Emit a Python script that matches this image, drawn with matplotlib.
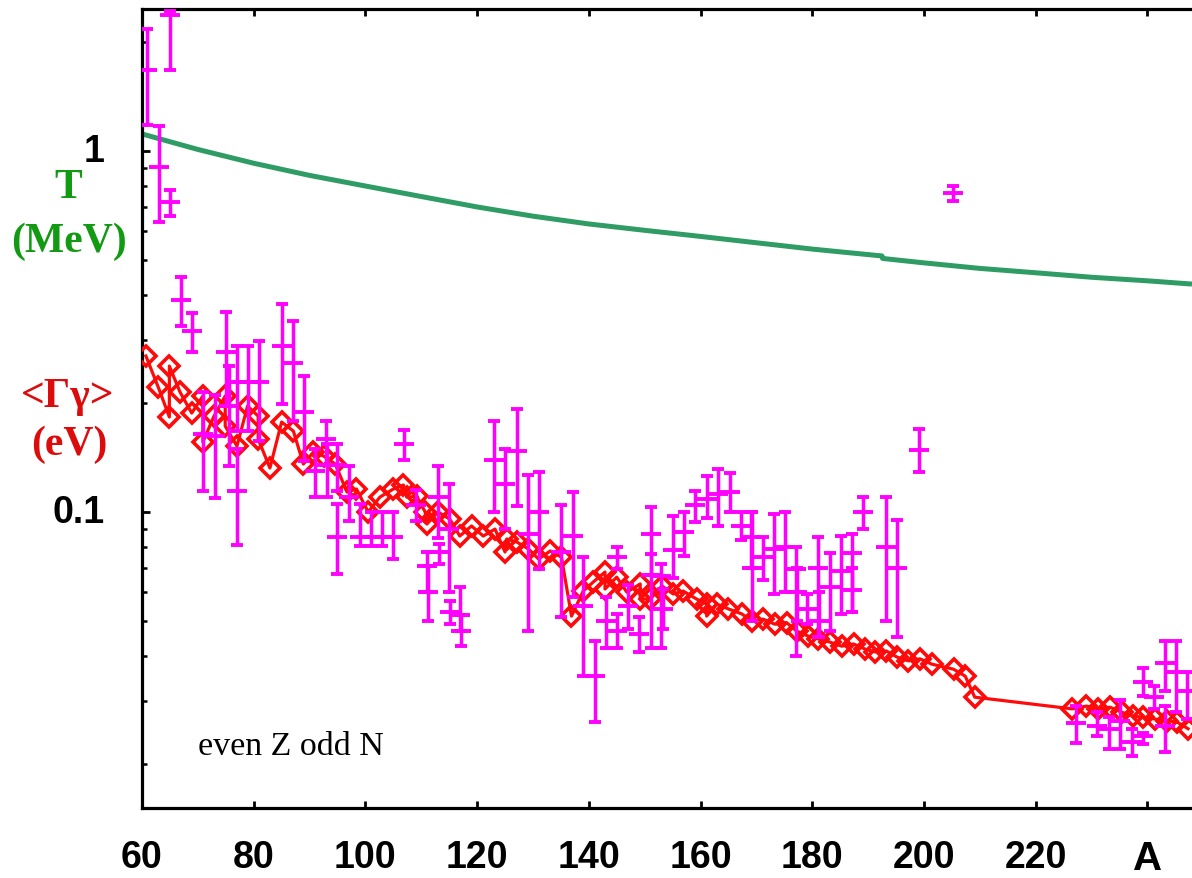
import matplotlib
matplotlib.use("Agg")
import matplotlib.pyplot as plt
import matplotlib.transforms as mtransforms
from matplotlib.ticker import FixedLocator, FixedFormatter, LogLocator, NullFormatter

# Nuclear temperature T (MeV) versus mass number A
t_A = [60, 70, 80, 90, 100, 110, 120, 130, 140, 150, 160, 170, 180, 192.5,
       192.6, 200, 210, 220, 230, 240, 248]
t_val = [1.115, 1.01, 0.925, 0.856, 0.800, 0.748, 0.700, 0.660, 0.628, 0.603,
         0.580, 0.557, 0.535, 0.512, 0.504, 0.490, 0.473, 0.460, 0.447, 0.437, 0.428]

# Calculated average radiative widths <Gamma_gamma> (eV)
calc_A = [60.7, 62.9, 64.9, 64.9, 66.8, 68.9, 70.9, 70.9, 72.9, 74.9, 74.9, 77.0,
          78.9, 80.8, 80.8, 82.9, 85.0, 87.1, 88.9, 90.7, 92.5, 94.6, 96.7, 98.4,
          100.5, 102.6, 105.0, 106.8, 107.4, 109.2, 110.7, 111.0, 113.0, 115.1,
          116.9, 119.0, 121.1, 123.2, 125.0, 125.3, 127.1, 129.2, 131.0, 133.1,
          135.1, 136.9, 139.0, 140.8, 142.9, 142.9, 145.0, 146.8, 149.2, 149.2,
          151.0, 153.1, 155.1, 156.9, 159.3, 161.1, 161.1, 162.9, 165.0, 167.4,
          169.2, 171.2, 173.3, 175.4, 177.2, 179.3, 181.1, 183.2, 185.3, 187.4,
          189.5, 191.2, 193.3, 195.1, 197.2, 199.3, 201.4, 205.3, 207.4, 209.1,
          226.5, 229.1, 231.2, 233.3, 235.4, 237.5, 239.3, 241.4, 243.5, 245.3, 247.3]
calc_gamma = [0.2705, 0.2219, 0.1833, 0.2537, 0.2150, 0.1880, 0.2096, 0.1563,
              0.1844, 0.2096, 0.1730, 0.1523, 0.1966, 0.1844, 0.1593, 0.1324,
              0.1775, 0.1676, 0.1358, 0.1466, 0.1429, 0.1358, 0.1136, 0.1158,
              0.1000, 0.1100, 0.1158, 0.1188, 0.1100, 0.1105, 0.1000, 0.0926,
              0.1000, 0.0956, 0.0858, 0.0915, 0.0858, 0.0897, 0.0775, 0.0842,
              0.0826, 0.0790, 0.0741, 0.0780, 0.0750, 0.0515, 0.0604, 0.0640,
              0.0682, 0.0612, 0.0660, 0.0600, 0.0632, 0.0574, 0.0574, 0.0624,
              0.0593, 0.0604, 0.0574, 0.0556, 0.0515, 0.0556, 0.0539, 0.0522,
              0.0499, 0.0505, 0.0489, 0.0494, 0.0468, 0.0453, 0.0445, 0.0436,
              0.0425, 0.0431, 0.0417, 0.0410, 0.0412, 0.0397, 0.0387, 0.0392,
              0.0379, 0.0367, 0.0351, 0.0307, 0.0285, 0.0290, 0.0285, 0.0288,
              0.0279, 0.0272, 0.0270, 0.0267, 0.0264, 0.0262, 0.0251]

# Measured <Gamma_gamma> (eV) with lower / upper error limits
exp_A = [60.9, 65.0, 63.0, 65.0, 67.0, 69.0, 71.0, 73.0, 75.0, 75.5, 77.0, 77.0,
         78.9, 81.0, 85.0, 87.0, 89.0, 91.0, 93.0, 93.2, 95.0, 95.0, 97.0, 99.0,
         101.0, 103.0, 105.0, 107.0, 109.0, 111.0, 111.2, 113.0, 113.2, 115.0,
         115.2, 117.0, 117.2, 123.1, 125.0, 127.1, 129.1, 131.1, 135.0, 137.1,
         139.0, 141.1, 143.1, 145.1, 145.1, 147.1, 149.0, 151.1, 151.1, 153.0,
         153.2, 155.0, 157.0, 159.0, 161.1, 163.2, 165.2, 167.2, 169.2, 169.0,
         171.1, 173.2, 175.1, 177.1, 177.2, 179.0, 181.1, 181.2, 183.1, 185.1,
         187.1, 187.2, 189.1, 193.2, 195.1, 199.2, 205.2, 227.2, 231.0, 233.2,
         235.1, 237.2, 239.3, 239.2, 241.2, 243.2, 243.2, 245.2, 247.1]
exp_gamma = [1.680, 2.381, 0.901, 0.721, 0.387, 0.318, 0.1644, 0.1627, 0.278,
             0.1966, 0.2287, 0.1146, 0.2287, 0.2287, 0.2877, 0.2582, 0.1889,
             0.1301, 0.1593, 0.1350, 0.1350, 0.0851, 0.1098, 0.0851, 0.0851,
             0.0851, 0.0851, 0.1543, 0.1045, 0.0707, 0.0601, 0.1098, 0.0774,
             0.0897, 0.0530, 0.0518, 0.0469, 0.1393, 0.1196, 0.1478, 0.0869,
             0.0998, 0.0776, 0.0859, 0.0550, 0.0351, 0.0500, 0.0749, 0.0469,
             0.0550, 0.0459, 0.0869, 0.0669, 0.0666, 0.0539, 0.0786, 0.0879,
             0.1045, 0.1086, 0.1122, 0.1139, 0.0916, 0.0698, 0.0851, 0.0749,
             0.0790, 0.0798, 0.0695, 0.0599, 0.0539, 0.0698, 0.0500, 0.0618,
             0.0688, 0.0770, 0.0609, 0.0998, 0.0798, 0.0698, 0.1488, 0.7636,
             0.0260, 0.0256, 0.0251, 0.0264, 0.0230, 0.0239, 0.0339, 0.0307,
             0.0256, 0.0381, 0.0360, 0.0320]
exp_lo = [1.180, 1.680, 0.637, 0.659, 0.328, 0.278, 0.1146, 0.1097, 0.1966,
          0.1343, 0.1679, 0.0808, 0.1679, 0.1576, 0.1991, 0.1790, 0.1387,
          0.1098, 0.1350, 0.1098, 0.1146, 0.0673, 0.0946, 0.0807, 0.0807,
          0.0807, 0.0741, 0.1396, 0.0946, 0.0601, 0.0500, 0.0846, 0.0718,
          0.0599, 0.0489, 0.0469, 0.0426, 0.0998, 0.0897, 0.1037, 0.0469,
          0.0695, 0.0511, 0.0580, 0.0352, 0.0262, 0.0419, 0.0695, 0.0419,
          0.0474, 0.0409, 0.0669, 0.0419, 0.0419, 0.0474, 0.0655, 0.0756,
          0.0940, 0.0960, 0.0916, 0.0998, 0.0837, 0.0500, 0.0698, 0.0649,
          0.0593, 0.0599, 0.0400, 0.0500, 0.0489, 0.0450, 0.0450, 0.0469,
          0.0522, 0.0530, 0.0530, 0.0897, 0.0500, 0.0450, 0.1293, 0.727,
          0.0229, 0.0239, 0.0221, 0.0221, 0.0211, 0.0228, 0.0309, 0.0285,
          0.0217, 0.0320, 0.0280, 0.0267]
exp_hi = [2.178, 2.450, 1.171, 0.781, 0.447, 0.357, 0.2146, 0.2109, 0.3589,
          0.2541, 0.2877, 0.1494, 0.2888, 0.2982, 0.3770, 0.3381, 0.2385,
          0.1494, 0.1790, 0.1543, 0.1543, 0.1052, 0.1343, 0.1052, 0.0998,
          0.0998, 0.0998, 0.1690, 0.1153, 0.0774, 0.0707, 0.1343, 0.0815,
          0.1196, 0.0568, 0.0618, 0.0518, 0.1790, 0.1494, 0.1929, 0.1266,
          0.1293, 0.1045, 0.1134, 0.0749, 0.0440, 0.0580, 0.0798, 0.0522,
          0.0628, 0.0511, 0.1030, 0.0765, 0.0718, 0.0612, 0.0977, 0.0998,
          0.1146, 0.1260, 0.1315, 0.1280, 0.0998, 0.0998, 0.0998, 0.0851,
          0.0988, 0.0998, 0.0798, 0.0698, 0.0593, 0.0851, 0.0600, 0.0770,
          0.0859, 0.0869, 0.0700, 0.1098, 0.1098, 0.0952, 0.1698, 0.800,
          0.0290, 0.0280, 0.0270, 0.0301, 0.0251, 0.0245, 0.0369, 0.0330,
          0.0291, 0.0440, 0.0440, 0.0360]

x_ticks = [60, 80, 100, 120, 140, 160, 180, 200, 220, 240]
x_ticklabels = ["60", "80", "100", "120", "140", "160", "180", "200", "220", "A"]
y_ticks = [0.1, 1]
y_ticklabels = ["0.1", "1"]

GREEN_LINE = "#2e9c64"
GREEN_TEXT = "#129a12"
RED = "#ff0a0a"
RED_TEXT = "#dc0c0c"
MAGENTA = "#ff00ff"

fig = plt.figure(figsize=(11.92, 8.79), dpi=100)
ax = fig.add_axes([142 / 1192, 70 / 879, 1050 / 1192, 799 / 879])
ax.set_yscale("log")
ax.set_xlim(60, 248.0)
ax.set_ylim(0.01514, 2.474)

ax.plot(t_A, t_val, color=GREEN_LINE, lw=3.6, zorder=2, solid_capstyle="butt")

ax.plot(calc_A, calc_gamma, "-", color=RED, lw=2.3, marker="D", ms=10.5,
        mfc="none", mec=RED, mew=2.6, zorder=3)

err_low = [g - lo for g, lo in zip(exp_gamma, exp_lo)]
err_high = [hi - g for g, hi in zip(exp_gamma, exp_hi)]
ax.errorbar(exp_A, exp_gamma, yerr=[err_low, err_high], fmt="_", color=MAGENTA,
            ms=14, mew=2.8, elinewidth=2.5, capsize=4.2, capthick=2.8, zorder=4)

for side in ("left", "bottom", "top"):
    ax.spines[side].set_linewidth(2.3)
ax.spines["right"].set_visible(False)

ax.xaxis.set_major_locator(FixedLocator(x_ticks))
ax.xaxis.set_major_formatter(FixedFormatter(x_ticklabels))
ax.yaxis.set_major_locator(FixedLocator(y_ticks))
ax.yaxis.set_major_formatter(FixedFormatter(y_ticklabels))
ax.yaxis.set_minor_locator(LogLocator(base=10, subs=[2, 3, 4, 5, 6, 7, 8, 9]))
ax.yaxis.set_minor_formatter(NullFormatter())

ax.tick_params(axis="x", which="major", direction="in", top=True, bottom=True,
               length=5, width=2, pad=22)
ax.tick_params(axis="y", which="major", direction="in", left=True, right=False,
               length=6, width=2, pad=27)
ax.tick_params(axis="y", which="minor", direction="in", left=True, right=False,
               length=3.5, width=1.8)

for lab in ax.get_xticklabels() + ax.get_yticklabels():
    lab.set_fontfamily("Liberation Sans")
    lab.set_fontweight("bold")
    lab.set_fontsize(27)
ax.get_xticklabels()[-1].set_fontsize(29)

# lift the y tick labels slightly above their ticks
lift = mtransforms.ScaledTranslation(0, 4 / 100, fig.dpi_scale_trans)
for lab in ax.get_yticklabels():
    lab.set_transform(lab.get_transform() + lift)

serif = "Liberation Serif"
fig.text(68 / 1192, 1 - 188 / 879, "T", color=GREEN_TEXT, fontsize=30,
         fontweight="bold", family=serif, ha="center", va="center")
fig.text(69 / 1192, 1 - 242 / 879, "(MeV)", color=GREEN_TEXT, fontsize=30,
         fontweight="bold", family=serif, ha="center", va="center")
fig.text(68 / 1192, 1 - 397 / 879, "<\u0393\u03b3>", color=RED_TEXT, fontsize=30,
         fontweight="bold", family=serif, ha="center", va="center")
fig.text(69 / 1192, 1 - 445 / 879, "(eV)", color=RED_TEXT, fontsize=30,
         fontweight="bold", family=serif, ha="center", va="center")
fig.text(198 / 1192, 1 - 747 / 879, "even Z odd N", color="black", fontsize=24.5,
         family=serif, ha="left", va="center")

fig.savefig("out.png", dpi=100, facecolor="white")
